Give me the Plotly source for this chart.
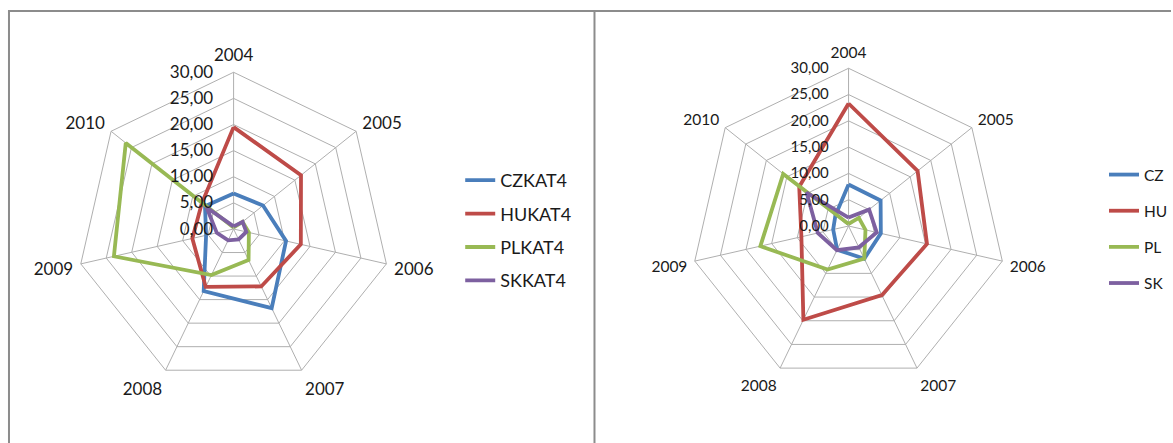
import plotly.graph_objects as go

years = ["2004", "2005", "2006", "2007", "2008", "2009", "2010"]

# Left chart (KAT4 series)
left_names = ["CZKAT4", "HUKAT4", "PLKAT4", "SKKAT4"]
cz_kat4 = [6.8, 7.2, 10.3, 16.8, 13.2, 5.4, 7.0]
hu_kat4 = [19.5, 16.5, 13.2, 12.2, 12.3, 8.1, 7.8]
pl_kat4 = [0.3, 2.2, 3.0, 6.6, 9.8, 23.5, 26.4]
sk_kat4 = [0.5, 2.2, 2.5, 2.2, 2.4, 3.3, 6.6]

# Right chart
right_names = ["CZ", "HU", "PL", "SK"]
cz = [7.9, 7.8, 6.3, 6.9, 5.0, 3.0, 3.2]
hu = [23.3, 16.8, 15.3, 14.6, 19.8, 9.2, 12.0]
pl = [0.4, 2.5, 3.3, 6.9, 9.2, 17.2, 15.9]
sk = [1.6, 5.0, 5.5, 4.5, 5.1, 6.0, 10.2]

radial_ticks = [0, 5, 10, 15, 20, 25, 30]

colors = ["#4A7EBB", "#BE4B48", "#98B954", "#7D60A0"]
FONT = "Lato"
GRID = "#AFAFAF"
W, H = 1173, 443

fig = go.Figure()

def closed(v):
    return list(v) + [v[0]]

for i, (name, vals, col) in enumerate(zip(left_names, [cz_kat4, hu_kat4, pl_kat4, sk_kat4], colors)):
    fig.add_trace(go.Scatterpolar(
        r=closed(vals), theta=closed(years), mode="lines", name=name,
        line=dict(color=col, width=3.8), subplot="polar", legend="legend",
        legendgroup="L%d" % i,
    ))

for i, (name, vals, col) in enumerate(zip(right_names, [cz, hu, pl, sk], colors)):
    fig.add_trace(go.Scatterpolar(
        r=closed(vals), theta=closed(years), mode="lines", name=name,
        line=dict(color=col, width=3.8), subplot="polar2", legend="legend2",
        legendgroup="R%d" % i,
    ))

def px(x):
    return x / W

def py(y):
    return 1 - y / H

def polar_cfg(cx, cy, R, fsize, rsize):
    return dict(
        domain=dict(x=[px(cx - R), px(cx + R)], y=[py(cy + R), py(cy - R)]),
        gridshape="linear",
        bgcolor="white",
        radialaxis=dict(
            range=[0, 30], tickvals=radial_ticks, tickformat=".2f",
            angle=90, tickangle=90, side="counterclockwise",
            showline=False, gridcolor=GRID, gridwidth=1,
            ticks="outside", ticklen=14, tickcolor="rgba(0,0,0,0)",
            tickfont=dict(family=FONT, size=rsize, color="#1a1a1a"),
        ),
        angularaxis=dict(
            type="category", categoryarray=years, direction="clockwise",
            rotation=90, showline=True, linecolor=GRID, linewidth=1,
            gridcolor=GRID, gridwidth=1,
            ticks="outside", ticklen=4, tickcolor="rgba(0,0,0,0)",
            tickfont=dict(family=FONT, size=fsize, color="#1a1a1a"),
        ),
    )

border = "#8C8C8C"
shapes = [
    dict(type="line", xref="paper", yref="paper", x0=px(8), x1=1, y0=py(11), y1=py(11),
         line=dict(color=border, width=2)),
    dict(type="line", xref="paper", yref="paper", x0=px(9), x1=px(9), y0=0, y1=py(11),
         line=dict(color=border, width=2)),
    dict(type="line", xref="paper", yref="paper", x0=px(595.5), x1=px(595.5), y0=0, y1=py(11),
         line=dict(color=border, width=2)),
]

fig.update_layout(
    width=W, height=H,
    margin=dict(l=0, r=0, t=0, b=0),
    paper_bgcolor="white",
    separators=", ",
    font=dict(family=FONT, color="#1a1a1a"),
    polar=polar_cfg(234, 229, 157, 17, 17),
    polar2=polar_cfg(850, 226, 158, 15.5, 15),
    legend=dict(x=px(461), y=py(162), xanchor="left", yanchor="top",
                font=dict(family=FONT, size=18, color="#1a1a1a"),
                tracegroupgap=7, itemwidth=30, bgcolor="rgba(0,0,0,0)"),
    legend2=dict(x=px(1106), y=py(158), xanchor="left", yanchor="top",
                 font=dict(family=FONT, size=15.5, color="#1a1a1a"),
                 tracegroupgap=13, itemwidth=30, bgcolor="rgba(0,0,0,0)"),
    shapes=shapes,
    showlegend=True,
)

fig.write_html("out.html",
               config={"displayModeBar": False},
               post_script="document.body.style.margin='0';document.body.style.overflow='hidden';")
